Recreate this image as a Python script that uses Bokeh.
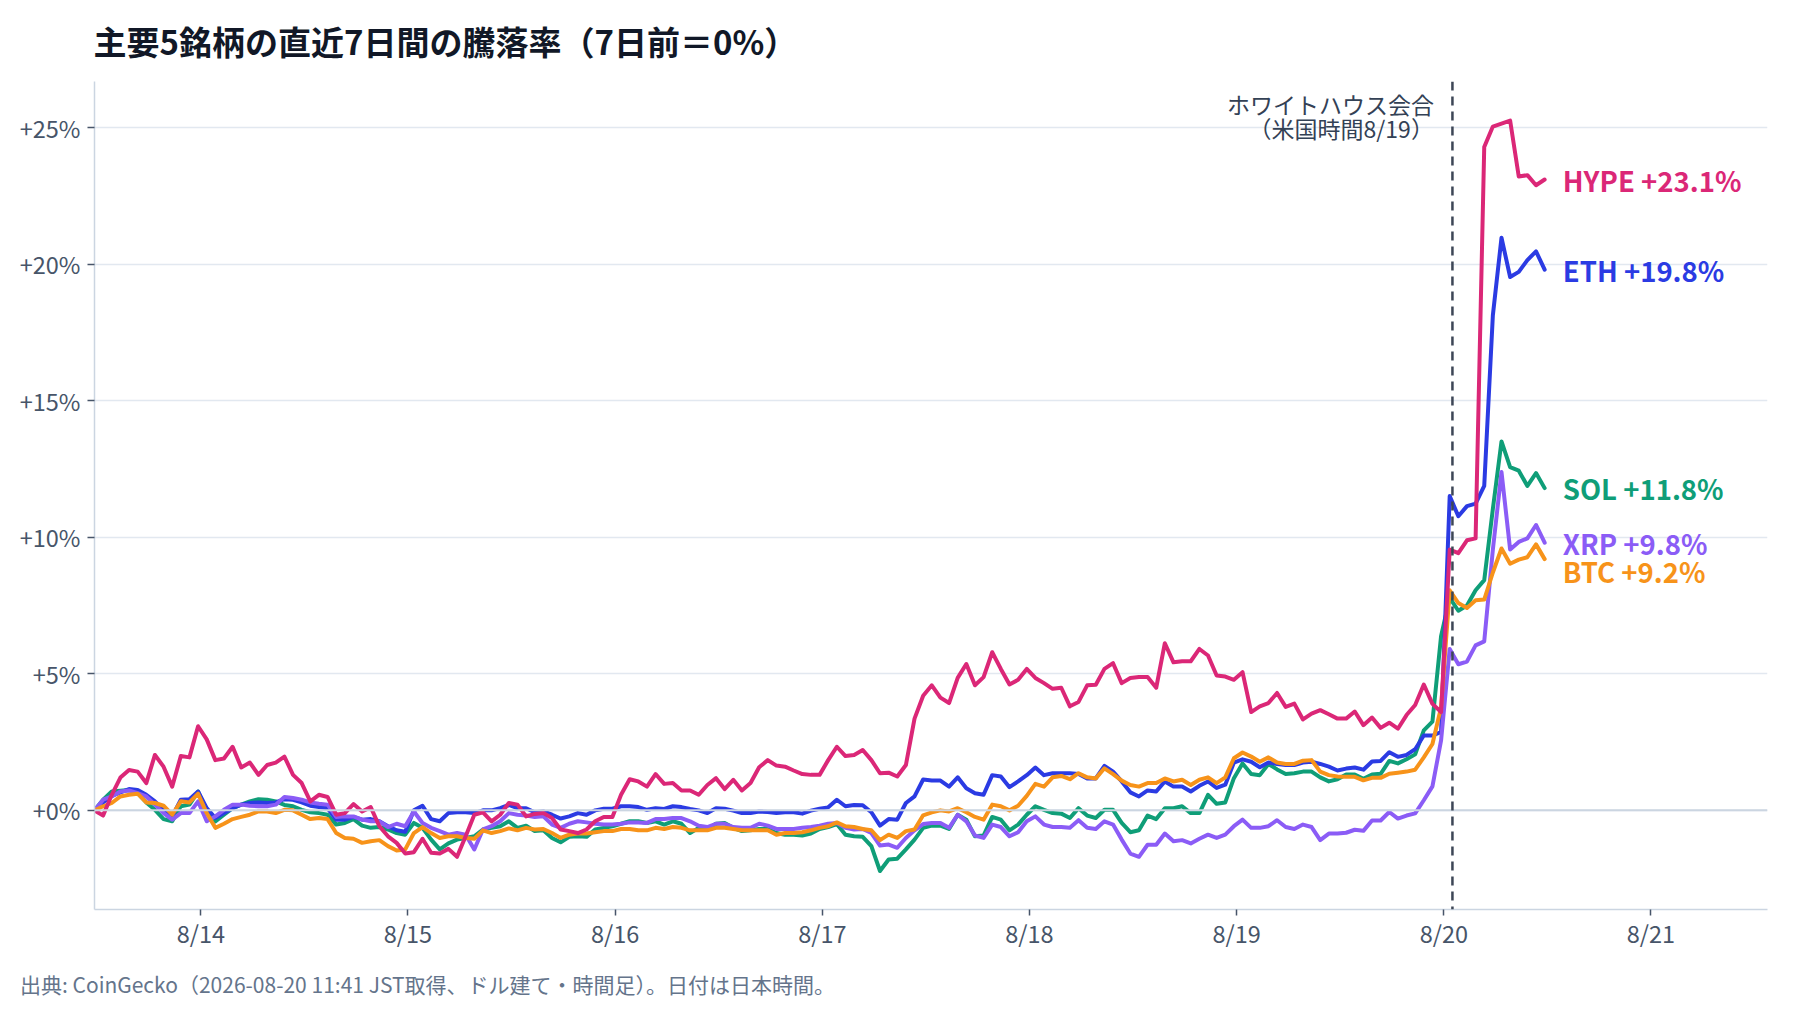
from bokeh.plotting import figure
from bokeh.models import ColumnDataSource, FixedTicker, Span, Label, Title, Range1d
from bokeh.core.properties import value
from bokeh.embed import file_html
from bokeh.resources import INLINE

FONT = "Noto Sans CJK JP"

# ---------------- data ----------------
# hourly points, hours counted from 2026-08-13 00:00 JST (first point 8/13 11:41)
start_hour = 11 + 41 / 60
n_points = 169
hours = [start_hour + i for i in range(n_points)]

tick_hours = [24, 48, 72, 96, 120, 144, 168, 192]
tick_labels = ["8/14", "8/15", "8/16", "8/17", "8/18", "8/19", "8/20", "8/21"]
y_ticks = [0, 5, 10, 15, 20, 25]
y_tick_labels = ["+0%", "+5%", "+10%", "+15%", "+20%", "+25%"]

event_hour = 169  # 8/20 01:00 JST (= 8/19 US time)
event_lines = ["ホワイトハウス会合", "（米国時間8/19）"]

title_text = "主要5銘柄の直近7日間の騰落率（7日前＝0%）"
source_text = "出典: CoinGecko（2026-08-20 11:41 JST取得、ドル建て・時間足）。日付は日本時間。"

names = ["SOL", "ETH", "XRP", "BTC", "HYPE"]
colors = {"HYPE": "#db2777", "ETH": "#2b3be3", "SOL": "#0f9e78", "XRP": "#8b5cf6", "BTC": "#f7931a"}

hype = [
    0.0, -0.19, 0.57, 1.2, 1.48, 1.42, 1.0, 2.03, 1.6, 0.87,
    1.99, 1.94, 3.08, 2.6, 1.84, 1.9, 2.33, 1.57, 1.75, 1.3,
    1.66, 1.75, 1.97, 1.3, 1.0, 0.33, 0.57, 0.49, -0.16, -0.1,
    0.23, -0.04, 0.12, -0.58, -0.95, -1.19, -1.58, -1.53, -1.04, -1.55,
    -1.58, -1.41, -1.7, -0.95, -0.16, -0.07, -0.4, -0.16, 0.27,
    0.21, -0.22, -0.13, -0.1, -0.28, -0.7, -0.76, -0.83, -0.7, -0.4,
    -0.24, -0.24, 0.57, 1.14, 1.06, 0.87, 1.33, 0.97, 1.0, 0.73,
    0.73, 0.57, 0.93, 1.18, 0.78, 1.12, 0.73, 1.0, 1.58, 1.84,
    1.64, 1.6, 1.46, 1.33, 1.3, 1.3, 1.84, 2.33, 1.99, 2.03,
    2.21, 1.84, 1.36, 1.38, 1.24, 1.66, 3.36,
    4.2, 4.58, 4.13, 3.93, 4.85, 5.36, 4.58, 4.88, 5.79, 5.18,
    4.61, 4.78, 5.18, 4.85, 4.66, 4.45, 4.49, 3.81, 3.97, 4.58,
    4.6, 5.18, 5.39, 4.66, 4.85, 4.88, 4.88, 4.49, 6.12, 5.42,
    5.46, 5.46, 5.91, 5.67, 4.94, 4.9, 4.78, 5.06, 3.6, 3.81,
    3.93, 4.3, 3.79, 3.91, 3.33, 3.54, 3.67, 3.52, 3.36,
    3.36, 3.62, 3.12, 3.4, 3.02, 3.21, 2.99, 3.49, 3.86, 4.61,
    3.9, 3.6, 9.55, 9.42, 9.89, 9.96, 24.29, 25.04, 25.15, 25.26,
    23.21, 23.26, 22.89, 23.1,
]

eth = [
    0.0, 0.29, 0.53, 0.66, 0.78, 0.75, 0.57, 0.33, 0.02, -0.22,
    0.39, 0.41, 0.69, 0.08, -0.28, -0.1, 0.08, 0.21, 0.27, 0.29,
    0.27, 0.29, 0.41, 0.39, 0.29, 0.17, 0.12, 0.08, -0.34, -0.34,
    -0.24, -0.34, -0.32, -0.4, -0.58, -0.73, -0.78, 0.0, 0.17, -0.32,
    -0.4, -0.1, -0.07, -0.07, -0.1, 0.0, 0.0, 0.08, 0.2,
    0.08, 0.08, -0.07, -0.04, -0.16, -0.3, -0.22, -0.1, -0.16, 0.0,
    0.06, 0.06, 0.15, 0.15, 0.12, 0.02, 0.08, 0.05, 0.15, 0.12,
    0.05, 0.0, -0.1, 0.08, 0.06, -0.01, -0.1, -0.1, -0.04, -0.06,
    -0.1, -0.07, -0.07, -0.12, -0.01, 0.06, 0.11, 0.39, 0.15, 0.2,
    0.19, -0.07, -0.56, -0.32, -0.34, 0.27, 0.51,
    1.13, 1.09, 1.09, 0.87, 1.21, 0.81, 0.63, 0.57, 1.29, 1.24,
    0.85, 1.06, 1.29, 1.57, 1.29, 1.36, 1.36, 1.36, 1.33, 1.17,
    1.17, 1.63, 1.42, 1.06, 0.66, 0.51, 0.73, 0.69, 1.06, 0.87,
    0.87, 0.69, 0.9, 1.06, 0.82, 0.94, 1.75, 1.87, 1.78, 1.58,
    1.75, 1.7, 1.66, 1.66, 1.75, 1.78, 1.7, 1.6, 1.46,
    1.53, 1.57, 1.49, 1.79, 1.81, 2.13, 1.96, 2.03, 2.24, 2.74,
    2.74, 2.87, 11.51, 10.77, 11.14, 11.23, 11.88, 18.13, 20.97, 19.53,
    19.72, 20.15, 20.47, 19.8,
]

sol = [
    0.0, 0.39, 0.69, 0.72, 0.75, 0.63, 0.29, 0.02, -0.32, -0.4,
    0.15, 0.21, 0.69, -0.04, -0.4, -0.16, 0.08, 0.21, 0.33, 0.41,
    0.39, 0.33, 0.2, 0.15, 0.02, -0.07, -0.1, -0.16, -0.52, -0.46,
    -0.32, -0.56, -0.64, -0.61, -0.7, -0.83, -0.89, -0.46, -0.64, -1.07,
    -1.43, -1.21, -1.07, -1.01, -0.95, -0.7, -0.64, -0.58, -0.4,
    -0.64, -0.56, -0.76, -0.73, -1.01, -1.17, -0.97, -0.95, -0.97, -0.7,
    -0.64, -0.58, -0.49, -0.4, -0.4, -0.46, -0.4, -0.52, -0.4, -0.49,
    -0.83, -0.64, -0.7, -0.49, -0.46, -0.64, -0.76, -0.73, -0.68, -0.68,
    -0.83, -0.89, -0.89, -0.92, -0.85, -0.68, -0.61, -0.5, -0.89, -0.95,
    -0.97, -1.31, -2.22, -1.8, -1.77, -1.43, -1.07,
    -0.64, -0.56, -0.56, -0.68, -0.16, -0.34, -0.95, -0.92, -0.24, -0.34,
    -0.73, -0.52, -0.16, 0.15, 0.02, -0.1, -0.12, -0.28, 0.08, -0.19,
    -0.28, 0.02, 0.02, -0.46, -0.8, -0.73, -0.19, -0.32, 0.08, 0.08,
    0.15, -0.1, -0.1, 0.57, 0.24, 0.29, 1.18, 1.72, 1.33, 1.29,
    1.7, 1.5, 1.33, 1.36, 1.42, 1.42, 1.21, 1.06, 1.14,
    1.31, 1.31, 1.16, 1.31, 1.34, 1.81, 1.72, 1.87, 2.05, 2.93,
    3.25, 6.38, 7.78, 7.31, 7.5, 8.06, 8.43, 11.04, 13.51, 12.57,
    12.44, 11.88, 12.35, 11.8,
]

xrp = [
    0.0, 0.39, 0.51, 0.69, 0.73, 0.63, 0.51, 0.21, -0.1, -0.34,
    -0.1, -0.1, 0.33, -0.4, -0.22, 0.02, 0.21, 0.21, 0.17, 0.15,
    0.15, 0.21, 0.49, 0.45, 0.39, 0.29, 0.24, 0.21, -0.24, -0.22,
    -0.22, -0.34, -0.4, -0.4, -0.61, -0.49, -0.58, -0.04, -0.46, -0.64,
    -0.76, -0.89, -0.83, -0.89, -1.43, -0.7, -0.58, -0.4, -0.1,
    -0.16, -0.19, -0.24, -0.22, -0.52, -0.64, -0.49, -0.4, -0.44, -0.49,
    -0.52, -0.52, -0.49, -0.44, -0.44, -0.46, -0.32, -0.32, -0.28, -0.28,
    -0.4, -0.56, -0.61, -0.49, -0.49, -0.61, -0.64, -0.64, -0.49, -0.56,
    -0.68, -0.68, -0.68, -0.64, -0.61, -0.56, -0.49, -0.46, -0.64, -0.7,
    -0.68, -0.83, -1.29, -1.25, -1.37, -1.01, -0.73,
    -0.5, -0.46, -0.46, -0.64, -0.16, -0.4, -0.92, -1.01, -0.52, -0.61,
    -0.95, -0.8, -0.4, -0.22, -0.52, -0.61, -0.61, -0.64, -0.36, -0.64,
    -0.68, -0.4, -0.52, -1.07, -1.58, -1.7, -1.26, -1.26, -0.85, -1.13,
    -1.09, -1.21, -1.04, -0.89, -1.01, -0.89, -0.58, -0.34, -0.64, -0.64,
    -0.58, -0.36, -0.61, -0.68, -0.52, -0.61, -1.09, -0.85, -0.85,
    -0.82, -0.71, -0.75, -0.37, -0.37, -0.06, -0.3, -0.19, -0.11, 0.37,
    0.88, 2.56, 5.91, 5.35, 5.45, 6.04, 6.19, 9.55, 12.39, 9.55,
    9.83, 9.96, 10.45, 9.8,
]

btc = [
    0.0, 0.15, 0.27, 0.51, 0.57, 0.61, 0.29, 0.27, 0.17, -0.16,
    0.33, 0.29, 0.61, -0.1, -0.64, -0.49, -0.32, -0.24, -0.16, -0.04,
    -0.04, -0.1, 0.02, 0.0, -0.16, -0.32, -0.28, -0.32, -0.83, -1.01,
    -1.04, -1.19, -1.13, -1.09, -1.31, -1.47, -1.43, -0.83, -0.61, -0.83,
    -1.01, -0.95, -0.95, -1.01, -1.04, -0.73, -0.83, -0.76, -0.66,
    -0.73, -0.64, -0.7, -0.68, -0.83, -1.01, -0.89, -0.85, -0.85, -0.8,
    -0.76, -0.76, -0.68, -0.68, -0.73, -0.73, -0.64, -0.68, -0.61, -0.64,
    -0.73, -0.73, -0.73, -0.64, -0.64, -0.68, -0.73, -0.73, -0.73, -0.73,
    -0.89, -0.83, -0.83, -0.8, -0.73, -0.64, -0.58, -0.44, -0.58, -0.61,
    -0.68, -0.73, -1.09, -0.89, -1.01, -0.76, -0.7,
    -0.18, -0.07, 0.0, -0.04, 0.08, -0.07, -0.24, -0.34, 0.21, 0.15,
    0.0, 0.17, 0.53, 0.97, 0.87, 1.21, 1.26, 1.14, 1.36, 1.21,
    1.17, 1.54, 1.33, 1.09, 0.93, 0.87, 1.0, 1.0, 1.17, 1.06,
    1.12, 0.93, 1.12, 1.21, 1.0, 1.21, 1.91, 2.12, 1.97, 1.78,
    1.94, 1.75, 1.7, 1.7, 1.82, 1.84, 1.42, 1.29, 1.24,
    1.23, 1.23, 1.1, 1.19, 1.19, 1.34, 1.38, 1.42, 1.49, 1.94,
    2.43, 3.77, 8.06, 7.59, 7.41, 7.69, 7.72, 8.71, 9.59, 9.03,
    9.18, 9.27, 9.74, 9.2,
]

series = {"HYPE": hype, "ETH": eth, "SOL": sol, "XRP": xrp, "BTC": btc}

# ---------------- figure ----------------
p = figure(
    width=1784, height=1012,
    output_backend="svg", toolbar_location=None,
    x_range=Range1d(start_hour, 205.5), y_range=Range1d(-3.63, 26.69),
    min_border_left=94, min_border_right=17, min_border_top=80, min_border_bottom=103,
    background_fill_color="white", border_fill_color="white",
)
p.outline_line_color = None

p.title.text = title_text
p.title.text_font = FONT
p.title.text_font_size = "33px"
p.title.text_font_style = "bold"
p.title.text_color = "#111827"
p.title.align = "left"
p.title.vertical_align = "middle"
p.title.offset = -1
p.title.standoff = 31

src = Title(text=source_text, align="left", offset=-74.5, standoff=28,
            text_font=FONT, text_font_size="21px", text_font_style="normal",
            text_color="#64748b")
p.add_layout(src, "below")

# axes
tick_color = "#475569"
for ax in (p.xaxis, p.yaxis):
    ax.axis_line_color = "#cbd5e1"
    ax.axis_line_width = 1.5
    ax.major_tick_line_color = "#475569"
    ax.major_tick_line_width = 1.5
    ax.major_tick_out = 7
    ax.major_tick_in = 0
    ax.minor_tick_line_color = None
    ax.major_label_text_font = FONT
    ax.major_label_text_font_size = "23.5px"
    ax.major_label_text_color = tick_color

p.xaxis.ticker = FixedTicker(ticks=tick_hours)
p.xaxis.major_label_overrides = {h: lab for h, lab in zip(tick_hours, tick_labels)}
p.xaxis.major_tick_out = 6
p.xaxis.major_label_standoff = 0
p.yaxis.ticker = FixedTicker(ticks=y_ticks)
p.yaxis.major_label_overrides = {t: lab for t, lab in zip(y_ticks, y_tick_labels)}
p.yaxis.major_label_standoff = 7

p.xgrid.grid_line_color = None
p.ygrid.grid_line_color = "#e2e8f0"
p.ygrid.grid_line_width = 1.5

p.add_layout(Span(location=0, dimension="width", line_color="#cbd5e1", line_width=2))

# event marker
p.add_layout(Span(location=event_hour, dimension="height", line_color="#3d4656",
                  line_width=2.5, line_dash="9 6"))
for txt, yv in zip(event_lines, [25.85, 25.0]):
    p.add_layout(Label(x=event_hour - 2.15, y=yv, text=txt, text_align="right",
                       text_baseline="middle", text_font=FONT, text_font_size="23px",
                       text_color="#334155"))

# lines
for name in names:
    p.line(hours, series[name], line_color=colors[name], line_width=4,
           line_join="round", line_cap="round")

# end labels with simple collision avoidance
order = sorted(series.keys(), key=lambda n: series[n][-1], reverse=True)
label_y = []
prev = None
for n in order:
    yv = series[n][-1]
    if prev is not None and yv > prev - 1.05:
        yv = prev - 1.05
    label_y.append(yv)
    prev = yv
label_src = ColumnDataSource(dict(
    x=[hours[-1] + 2.1] * len(order),
    y=label_y,
    text=[f"{n} +{series[n][-1]:.1f}%" for n in order],
    color=[colors[n] for n in order],
))
p.text(x="x", y="y", text="text", text_color="color", source=label_src,
       text_font=value(FONT), text_font_size="27.5px", text_font_style="bold",
       text_align="left", text_baseline="middle")

open("out.html", "w").write(file_html(p, INLINE))
